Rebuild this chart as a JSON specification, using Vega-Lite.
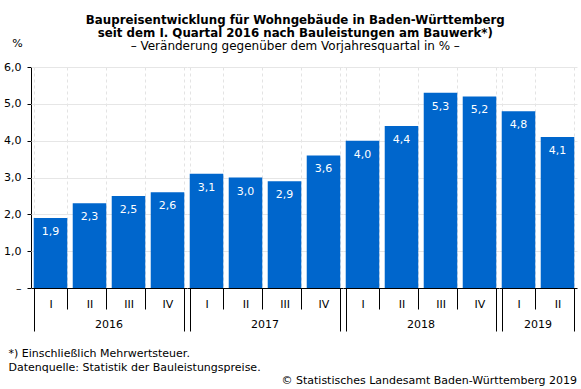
{
  "$schema": "https://vega.github.io/schema/vega-lite/v6.json",
  "padding": {"left": 3, "right": 4, "top": 15, "bottom": 2},
  "config": {
    "font": "DejaVu Sans",
    "locale": {"number": {"decimal": ",", "thousands": ".", "grouping": [3], "currency": ["", " €"]}},
    "view": {"stroke": null},
    "axis": {"labelFont": "DejaVu Sans", "labelFontSize": 11, "labelColor": "#000", "domainColor": "#000", "tickColor": "#000", "gridColor": "#e6e6e6"},
    "title": {"font": "DejaVu Sans", "fontSize": 11, "color": "#000", "subtitleFont": "DejaVu Sans", "subtitleFontSize": 12, "subtitleColor": "#000"},
    "concat": {"spacing": 0}
  },
  "title": {"text": "© Statistisches Landesamt Baden-Württemberg 2019", "orient": "bottom", "anchor": "end", "fontWeight": "normal", "offset": 2, "frame": "bounds"},
  "vconcat": [
    {
      "title": {"text": ["*) Einschließlich Mehrwertsteuer.", "Datenquelle: Statistik der Bauleistungspreise."], "orient": "bottom", "anchor": "start", "fontWeight": "normal", "lineHeight": 14, "offset": 16, "frame": "bounds", "dx": 5},
      "vconcat": [
        {
          "title": {"text": ["Baupreisentwicklung für Wohngebäude in Baden-Württemberg", "seit dem I. Quartal 2016 nach Bauleistungen am Bauwerk*)"], "subtitle": "– Veränderung gegenüber dem Vorjahresquartal in % –", "anchor": "middle", "fontWeight": "bold", "fontSize": 11.8, "lineHeight": 13, "subtitlePadding": 1, "offset": -15, "frame": "bounds", "dx": 5},
          "data": {"values": [
            {"year": "2016", "quarter": "I", "value": 1.9},
            {"year": "2016", "quarter": "II", "value": 2.3},
            {"year": "2016", "quarter": "III", "value": 2.5},
            {"year": "2016", "quarter": "IV", "value": 2.6},
            {"year": "2017", "quarter": "I", "value": 3.1},
            {"year": "2017", "quarter": "II", "value": 3.0},
            {"year": "2017", "quarter": "III", "value": 2.9},
            {"year": "2017", "quarter": "IV", "value": 3.6},
            {"year": "2018", "quarter": "I", "value": 4.0},
            {"year": "2018", "quarter": "II", "value": 4.4},
            {"year": "2018", "quarter": "III", "value": 5.3},
            {"year": "2018", "quarter": "IV", "value": 5.2},
            {"year": "2019", "quarter": "I", "value": 4.8},
            {"year": "2019", "quarter": "II", "value": 4.1}
          ]},
          "facet": {"column": {"field": "year", "type": "ordinal", "header": {"labelOrient": "bottom", "title": null, "labelFont": "DejaVu Sans", "labelFontSize": 11, "labelColor": "#000", "labelPadding": -13}}},
          "spacing": 0,
          "resolve": {"scale": {"x": "independent"}},
          "spec": {
            "width": {"step": 39},
            "height": 221,
            "encoding": {
              "x": {"field": "quarter", "type": "ordinal", "sort": ["I", "II", "III", "IV"],
                "scale": {"paddingInner": 0.14, "paddingOuter": 0.07},
                "axis": {"title": null, "labelAngle": 0, "tickBand": "extent", "grid": true, "gridDash": [3, 3], "gridColor": "#e3e3e3",
                  "tickSize": {"condition": {"test": "datum.index == 1 || datum.index < 0", "value": 43}, "value": 21},
                  "labelPadding": {"condition": {"test": "datum.index == 1", "value": -33}, "value": -11}}},
              "y": {"field": "value", "type": "quantitative", "scale": {"domain": [0, 6]},
                "axis": {"values": [0, 1, 2, 3, 4, 5, 6], "format": ".1f", "labelExpr": "datum.value == 0 ? '–' : datum.label", "tickSize": 4, "labelPadding": 6, "gridColor": "#e6e6e6",
                  "title": "%", "titleAngle": 0, "titleFontWeight": "normal", "titleFontSize": 11, "titleX": -14, "titleY": -24, "titleAlign": "center", "titleBaseline": "middle"}}
            },
            "layer": [
              {"mark": {"type": "bar", "color": "#0066cc"}},
              {"mark": {"type": "text", "color": "white", "baseline": "middle", "dy": 14, "fontSize": 11},
                "encoding": {"text": {"field": "value", "type": "quantitative", "format": ".1f"}}}
            ]
          }
        }
      ]
    }
  ]
}
